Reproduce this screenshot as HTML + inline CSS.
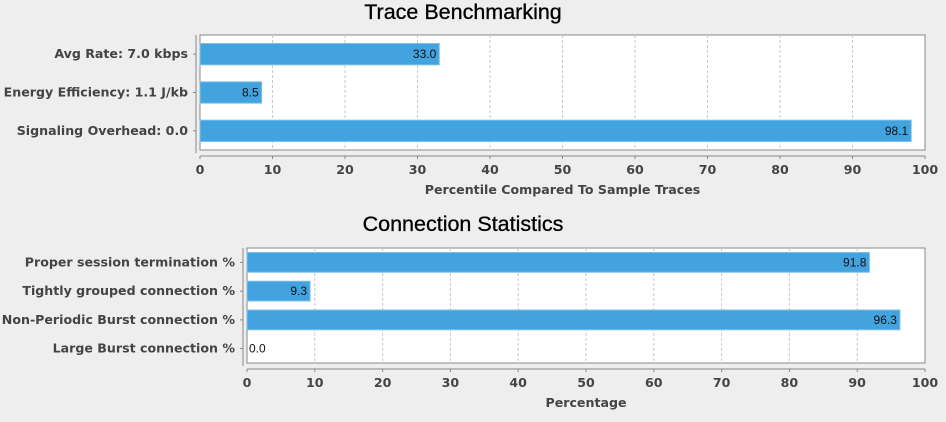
<!DOCTYPE html>
<html><head><meta charset="utf-8"><style>
body{margin:0;background:#eeeeee;width:946px;height:422px;overflow:hidden;font-family:"Liberation Sans","DejaVu Sans",sans-serif}
svg{display:block}
.lbl{font-family:"DejaVu Sans",sans-serif;font-weight:bold;font-size:12.6px;fill:#444}
.tick{font-family:"DejaVu Sans",sans-serif;font-weight:bold;font-size:12.6px;fill:#444}
.val{font-family:"Liberation Sans",sans-serif;font-size:12px;fill:#111}
.title{font-family:"Liberation Sans",sans-serif;font-size:21.5px;fill:#000;stroke:#000;stroke-width:0.3}
</style></head><body>
<svg id="c" width="946" height="422"></svg>
<script>
const cats1=["Avg Rate: 7.0 kbps","Energy Efficiency: 1.1 J/kb","Signaling Overhead: 0.0"];
const vals1=[33.0,8.5,98.1];
const cats2=["Proper session termination %","Tightly grouped connection %","Non-Periodic Burst connection %","Large Burst connection %"];
const vals2=[91.8,9.3,96.3,0.0];
const ticks=[0,10,20,30,40,50,60,70,80,90,100];
const svg=document.getElementById('c');
const NS="http://www.w3.org/2000/svg";
function mk(t,a,p){const e=document.createElementNS(NS,t);for(const k in a)e.setAttribute(k,a[k]);(p||svg).appendChild(e);return e;}
function chart(cfg){
 const {cats,vals,x0,x1,top,bot,title,titleY,axisTitle,name,bandPad}=cfg;
 const g=mk('g',{});
 
 
 const xs=v=>x0+(x1-x0)*v/100;
 const t=mk('text',{x:463,y:titleY,'text-anchor':'middle',class:'title'},g);t.textContent=title;
 
 
 mk('rect',{x:x0,y:top,width:x1-x0,height:bot-top,fill:'#fff',stroke:'#888','stroke-width':1},g);
 ticks.forEach(v=>{
  if(v>0&&v<100){const l=mk('line',{x1:xs(v),x2:xs(v),y1:top,y2:bot,stroke:'#c8c8c8','stroke-dasharray':'3,2'},g);
  
  }
  mk('line',{x1:xs(v),x2:xs(v),y1:bot+6,y2:bot+9,stroke:'#888'},g);
  const tx=mk('text',{x:xs(v),y:bot+24,'text-anchor':'middle',class:'tick'},g);tx.textContent=v;
  
  
 });
 mk('line',{x1:x0,x2:x1,y1:bot+6,y2:bot+6,stroke:'#888'},g);
 mk('line',{x1:x0-4,x2:x0-4,y1:top,y2:bot+3,stroke:'#888'},g);
 const at=mk('text',{x:(x0+x1)/2,y:bot+44,'text-anchor':'middle',class:'lbl'},g);at.textContent=axisTitle;
 
 
 const band=(bot-top)/cats.length;
 cats.forEach((c,i)=>{
  const cy=top+band*(i+0.5);const h=band-bandPad;
  mk('line',{x1:x0-7,x2:x0-4,y1:cy,y2:cy,stroke:'#888'},g);
  const l=mk('text',{x:x0-12,y:cy+4,'text-anchor':'end',class:'lbl'},g);l.textContent=c;
  
  
  const w=xs(vals[i])-x0;
  if(w>0){const b=mk('rect',{x:x0,y:cy-h/2,width:w,height:h,fill:'#42a3df',stroke:'#7cc0ea','stroke-width':1},g);
  
  }
  const vt=vals[i].toFixed(1);
  const vx=w>30?xs(vals[i])-3:x0+2;
  const v=mk('text',{x:vx,y:cy+4,'text-anchor':w>30?'end':'start',class:'val'},g);v.textContent=vt;
  
  
 });
}
chart({cats:cats1,vals:vals1,x0:200,x1:925,top:35,bot:150,title:"Trace Benchmarking",titleY:19,axisTitle:"Percentile Compared To Sample Traces",name:"trace-benchmarking-chart",bandPad:17});
chart({cats:cats2,vals:vals2,x0:247,x1:925,top:248,bot:363,title:"Connection Statistics",titleY:231,axisTitle:"Percentage",name:"connection-statistics-chart",bandPad:9});
</script>
</body></html>
